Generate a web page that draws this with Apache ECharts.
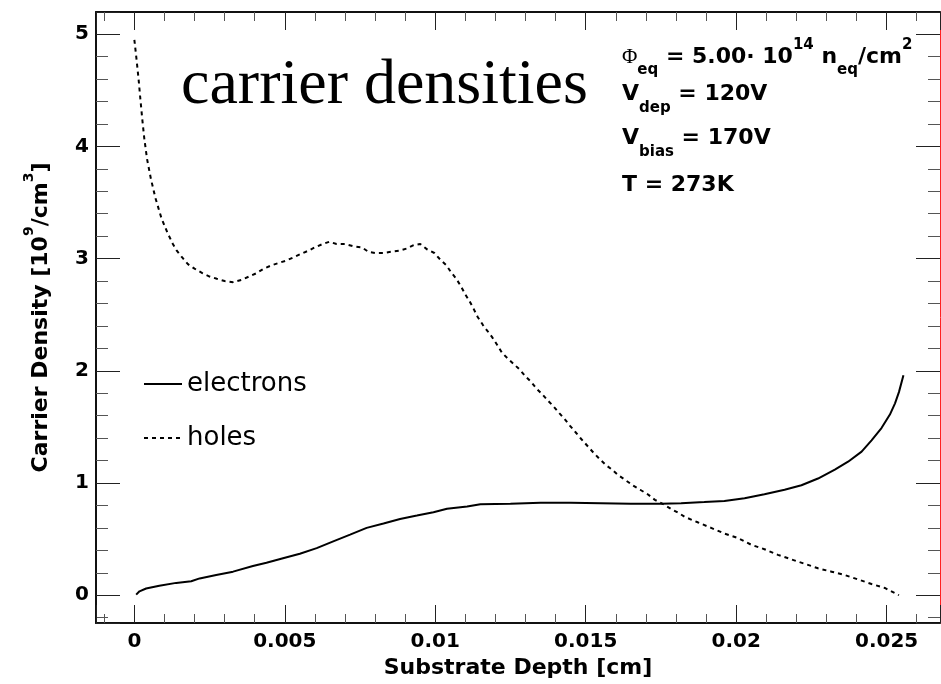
<!DOCTYPE html>
<html>
<head>
<meta charset="utf-8">
<script src="https://cdn.jsdelivr.net/npm/echarts@6/dist/echarts.min.js"></script>
<style>
  html, body { margin: 0; padding: 0; background: #ffffff; }
  #chart { width: 941px; height: 684px; }
</style>
</head>
<body>
<div id="chart"></div>
<script>
// Electron density profile across the substrate depth [cm] -> [10^9/cm^3]
const electronDepth = [
  0.00006, 0.00017, 0.00039, 0.00083, 0.00139, 0.00189, 0.00217, 0.00272, 0.00328, 0.00394,
  0.00439, 0.00494, 0.0055, 0.00606, 0.00661, 0.00717, 0.00772, 0.00828, 0.00883, 0.00939,
  0.00994, 0.01039, 0.01106, 0.0115, 0.0125, 0.0135, 0.0145, 0.0155, 0.0165, 0.0175,
  0.01817, 0.01894, 0.01961, 0.02028, 0.02094, 0.02161, 0.02217, 0.02272, 0.02328, 0.02372,
  0.02417, 0.0245, 0.02483, 0.02511, 0.02528, 0.02541, 0.02556
];
const electronDensity = [
  0.005, 0.035, 0.06, 0.085, 0.11, 0.125, 0.15, 0.18, 0.21, 0.26,
  0.29, 0.33, 0.37, 0.42, 0.48, 0.54, 0.60, 0.64, 0.68, 0.71,
  0.74, 0.77, 0.79, 0.81, 0.815, 0.825, 0.825, 0.82, 0.815, 0.815,
  0.82, 0.83, 0.84, 0.865, 0.90, 0.94, 0.98, 1.04, 1.12, 1.19,
  1.28, 1.38, 1.49, 1.61, 1.71, 1.81, 1.96
];

// Hole density profile
const holeDepth = [
  0, 0.00007, 0.00014, 0.0002, 0.00026, 0.00033, 0.00042, 0.00055, 0.0007, 0.0009,
  0.0011, 0.00128, 0.00141, 0.00159, 0.00178, 0.002, 0.00226, 0.0025, 0.00274, 0.003,
  0.00328, 0.00356, 0.00381, 0.00406, 0.0043, 0.00456, 0.00478, 0.00503, 0.00528, 0.00552,
  0.00578, 0.006, 0.00626, 0.00648, 0.00672, 0.007, 0.00728, 0.00756, 0.00778, 0.008,
  0.00828, 0.00852, 0.0088, 0.00906, 0.00928, 0.0095, 0.00974, 0.00997, 0.01017, 0.01037,
  0.01052, 0.0107, 0.01086, 0.011, 0.01114, 0.01128, 0.01141, 0.01158, 0.01172, 0.01189,
  0.01206, 0.01222, 0.01241, 0.01261, 0.01281, 0.013, 0.01319, 0.01337, 0.01356, 0.01376,
  0.01394, 0.01413, 0.0143, 0.01448, 0.01467, 0.01486, 0.01506, 0.01526, 0.01544, 0.01567,
  0.01587, 0.01608, 0.0163, 0.01656, 0.01681, 0.01706, 0.0173, 0.01759, 0.01783, 0.01811,
  0.01828, 0.01872, 0.01917, 0.01961, 0.02006, 0.0205, 0.02094, 0.02139, 0.02183, 0.02228,
  0.02272, 0.02317, 0.02361, 0.02406, 0.0245, 0.02494, 0.02541
];
const holeDensity = [
  4.95, 4.78, 4.60, 4.42, 4.25, 4.07, 3.89, 3.71, 3.54, 3.36,
  3.23, 3.13, 3.07, 3.01, 2.95, 2.91, 2.87, 2.84, 2.82, 2.80,
  2.79, 2.81, 2.84, 2.87, 2.91, 2.94, 2.96, 2.98, 3.01, 3.04,
  3.07, 3.10, 3.13, 3.15, 3.13, 3.13, 3.11, 3.10, 3.06, 3.05,
  3.05, 3.06, 3.07, 3.09, 3.12, 3.13, 3.08, 3.05, 2.99, 2.94,
  2.88, 2.82, 2.75, 2.68, 2.62, 2.55, 2.48, 2.41, 2.36, 2.30,
  2.23, 2.16, 2.11, 2.06, 2.01, 1.95, 1.90, 1.84, 1.79, 1.73,
  1.68, 1.62, 1.57, 1.51, 1.45, 1.39, 1.33, 1.27, 1.22, 1.16,
  1.12, 1.07, 1.03, 0.98, 0.94, 0.90, 0.85, 0.81, 0.77, 0.73,
  0.70, 0.65, 0.60, 0.55, 0.51, 0.45, 0.41, 0.36, 0.32, 0.28,
  0.24, 0.21, 0.18, 0.14, 0.10, 0.065, 0.0
];

const seriesNames = ['electrons', 'holes'];
const depthRange = [-0.001275, 0.026775];
const densityRange = [-0.2475, 5.1975];
const xTitle = 'Substrate Depth [cm]';
const yTitle = '{t|Carrier Density [10}{s|9}{t|/cm}{s|3}{t|]}';
const plotTitle = 'carrier densities';
const infoLines = [
  '{phi|\u03A6}{sub|eq}{m| = 5.00\u00B7 10}{sup|14}{m| n}{sub|eq}{m|/cm}{sup|2}',
  '{m|V}{sub|dep}{m| = 120V}',
  '{m|V}{sub|bias}{m| = 170V}',
  '{m|T = 273K}'
];

const SANS = 'DejaVu Sans';
const frameColor = '#111';

function pairs(xs, ys) {
  return xs.map((x, i) => [x, ys[i]]);
}

function depthAxis(position, withLabels) {
  return {
    type: 'value',
    position: position,
    min: depthRange[0],
    max: depthRange[1],
    splitNumber: 5,
    name: withLabels ? xTitle : '',
    nameLocation: 'middle',
    nameGap: 34,
    nameTextStyle: { fontFamily: SANS, fontWeight: 'bold', fontSize: 22, color: '#000' },
    axisLine: { show: true, onZero: false, lineStyle: { color: frameColor, width: 2 } },
    axisTick: { show: true, inside: true, length: 18, lineStyle: { color: '#222', width: 1 } },
    minorTick: { show: true, splitNumber: 5, length: 9, lineStyle: { color: '#555', width: 1 } },
    splitLine: { show: false },
    minorSplitLine: { show: false },
    axisLabel: {
      show: withLabels, showMinLabel: false, showMaxLabel: false, margin: 9,
      color: '#000', fontFamily: SANS, fontWeight: 'bold', fontSize: 20
    }
  };
}

function densityAxis(position, withLabels, lineColor, lineWidth) {
  return {
    type: 'value',
    position: position,
    min: densityRange[0],
    max: densityRange[1],
    splitNumber: 5,
    name: withLabels ? yTitle : '',
    nameLocation: 'middle',
    nameRotate: 90,
    nameGap: 44,
    nameTextStyle: {
      rich: {
        t: { fontFamily: SANS, fontWeight: 'bold', fontSize: 22, color: '#000', lineHeight: 30, verticalAlign: 'bottom' },
        s: { fontFamily: SANS, fontWeight: 'bold', fontSize: 14, color: '#000', lineHeight: 14, verticalAlign: 'top' }
      }
    },
    axisLine: { show: true, onZero: false, lineStyle: { color: lineColor, width: lineWidth } },
    axisTick: { show: true, inside: true, length: 24, lineStyle: { color: '#222', width: 1 } },
    minorTick: { show: true, splitNumber: 5, length: 12, lineStyle: { color: '#555', width: 1 } },
    splitLine: { show: false },
    minorSplitLine: { show: false },
    axisLabel: {
      show: withLabels, showMinLabel: false, showMaxLabel: false, margin: 7,
      color: '#000', fontFamily: SANS, fontWeight: 'bold', fontSize: 20
    }
  };
}

// Parameter box: main text, subscripts and superscripts share one rich line
const infoRich = {
  m: { fontFamily: SANS, fontWeight: 'bold', fontSize: 22, color: '#000', lineHeight: 46, verticalAlign: 'top', padding: [14, 0, 0, 0] },
  phi: { fontFamily: 'Liberation Serif', fontSize: 21, color: '#000', verticalAlign: 'top', padding: [15, 0, 0, 0] },
  sub: { fontFamily: SANS, fontWeight: 'bold', fontSize: 15, color: '#000', verticalAlign: 'bottom' },
  sup: { fontFamily: SANS, fontWeight: 'bold', fontSize: 15, color: '#000', verticalAlign: 'top', padding: [6, 0, 0, 0] }
};
const infoTops = [32, 69.5, 113.5, 160.5];

const graphics = [
  {
    type: 'text', x: 181, y: 54, silent: true,
    style: { text: plotTitle, fontFamily: 'Liberation Serif', fontSize: 64, fill: '#000', verticalAlign: 'top' }
  }
].concat(infoLines.map((line, i) => ({
  type: 'text', x: 622, y: infoTops[i], silent: true,
  style: { text: line, rich: infoRich, verticalAlign: 'top', fill: '#000' }
})));

const chart = echarts.init(document.getElementById('chart'), null, { renderer: 'canvas' });
chart.setOption({
  animation: false,
  backgroundColor: '#ffffff',
  grid: { left: 96, top: 12, right: 1, bottom: 59, containLabel: false },
  xAxis: [depthAxis('bottom', true), depthAxis('top', false)],
  yAxis: [densityAxis('left', true, frameColor, 2), densityAxis('right', false, '#ff2020', 1)],
  legend: {
    orient: 'vertical', left: 143, top: 371, padding: 0,
    itemWidth: 38, itemHeight: 14, itemGap: 28,
    itemStyle: { opacity: 0 },
    textStyle: { fontFamily: SANS, fontSize: 26, color: '#000' },
    data: seriesNames
  },
  series: [
    {
      name: seriesNames[0], type: 'line', xAxisIndex: 0, yAxisIndex: 0,
      symbol: 'none', smooth: false,
      lineStyle: { color: '#000', width: 2, type: 'solid' },
      itemStyle: { color: '#000' },
      data: pairs(electronDepth, electronDensity)
    },
    {
      name: seriesNames[1], type: 'line', xAxisIndex: 0, yAxisIndex: 0,
      symbol: 'none', smooth: false,
      lineStyle: { color: '#000', width: 2, type: [4, 4] },
      itemStyle: { color: '#000' },
      data: pairs(holeDepth, holeDensity)
    }
  ],
  graphic: graphics
});
</script>
</body>
</html>
